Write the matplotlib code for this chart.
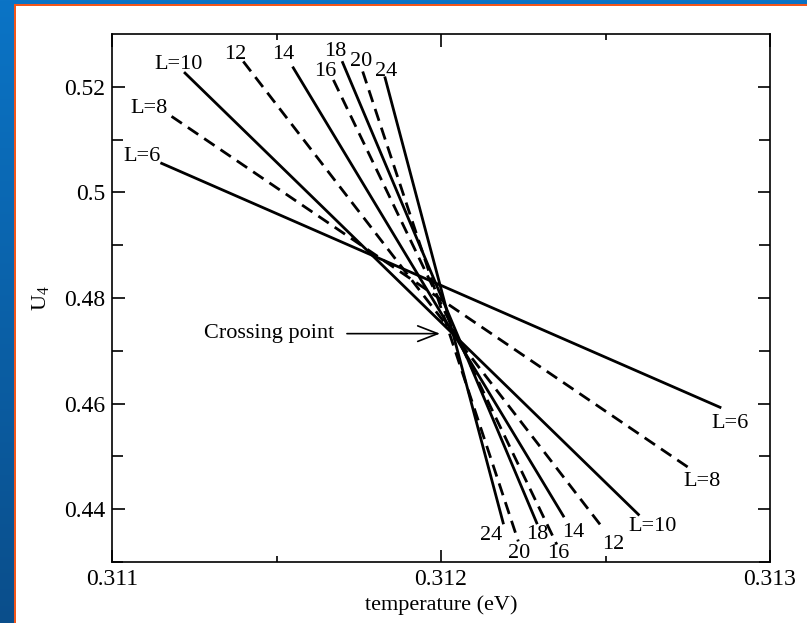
import numpy as np
import matplotlib
matplotlib.use("Agg")
import matplotlib.pyplot as plt
from matplotlib.patches import Rectangle
from matplotlib.colors import LinearSegmentedColormap

plt.rcParams['font.family'] = ['Liberation Serif', 'DejaVu Serif']
plt.rcParams['mathtext.fontset'] = 'custom'
plt.rcParams['mathtext.rm'] = 'Liberation Serif'
plt.rcParams['mathtext.it'] = 'Liberation Serif:italic'

# system sizes and the straight fits of U4 vs temperature (end points)
sizes = [6, 8, 10, 12, 14, 16, 18, 20, 24]
t_start = [0.311151, 0.311181, 0.311222, 0.311399, 0.311551, 0.311673, 0.311701, 0.311762, 0.311830]
t_end = [0.312848, 0.312752, 0.312600, 0.312491, 0.312372, 0.312352, 0.312291, 0.312235, 0.312189]
u_start = [0.5055, 0.5144, 0.5226, 0.5248, 0.5236, 0.5213, 0.5246, 0.5229, 0.5217]
u_end = [0.4593, 0.4479, 0.4390, 0.4365, 0.4387, 0.4333, 0.4374, 0.4339, 0.4374]
dashed = [False, True, False, True, False, True, False, True, False]

# label offsets (points) from each end of the line
top_off = [(-14, 5), (-16, 6), (-5, 6), (-6, 5), (-7, 9.5), (-6, 6), (-5, 8), (-1, 7), (1, 4.5)]
bot_off = [(7, -12), (10, -10), (10, -8.5), (7.5, -12), (7, -12), (1, -6.5), (0, -8), (0.5, -9), (-9, -9)]

crossing_t = 0.311997
crossing_u = 0.47325

fig = plt.figure(figsize=(8.07, 6.23), dpi=100)

# blue slide background with orange edge and white panel
bg = fig.add_axes([0, 0, 1, 1], zorder=-10)
grad = np.linspace(0, 1, 256).reshape(-1, 1)
cmap = LinearSegmentedColormap.from_list('slide', ['#0b74c6', '#0a4e8b'])
bg.imshow(grad, aspect='auto', cmap=cmap, extent=[0, 1, 0, 1], origin='upper')
bg.add_patch(Rectangle((14 / 807, 0), 1, 1 - 4 / 623, color='#f2561b', lw=0))
bg.add_patch(Rectangle((16 / 807, 0), 1, 1 - 6 / 623, color='white', lw=0))
bg.set_xlim(0, 1)
bg.set_ylim(0, 1)
bg.axis('off')

ax = fig.add_axes([112 / 807, 1 - 562 / 623, 658 / 807, 528 / 623])
ax.set_facecolor('none')

for i, L in enumerate(sizes):
    ls = (0, (4.5, 2.6)) if dashed[i] else '-'
    ax.plot([t_start[i], t_end[i]], [u_start[i], u_end[i]], color='black', lw=2.0, ls=ls)
    name = f'L={L}' if L <= 10 else str(L)
    ax.annotate(name, (t_start[i], u_start[i]), xytext=top_off[i], textcoords='offset points',
                ha='center', va='center', fontsize=16)
    ax.annotate(name, (t_end[i], u_end[i]), xytext=bot_off[i], textcoords='offset points',
                ha='center', va='center', fontsize=16)

ax.annotate('Crossing point', xy=(crossing_t, crossing_u), xytext=(-76, 0), textcoords='offset points',
            ha='right', va='center', fontsize=16,
            arrowprops=dict(arrowstyle='->,head_length=0.9,head_width=0.35', color='black', lw=1.2,
                            shrinkA=7, shrinkB=0))

ax.set_xlim(0.311, 0.313)
ax.set_ylim(0.43, 0.53)
ax.set_xticks([0.311, 0.312, 0.313])
ax.set_xticklabels(['0.311', '0.312', '0.313'])
ax.set_xticks([0.3115, 0.3125], minor=True)
ax.set_yticks([0.44, 0.46, 0.48, 0.5, 0.52])
ax.set_yticklabels(['0.44', '0.46', '0.48', '0.5', '0.52'])
ax.set_yticks([0.43, 0.45, 0.47, 0.49, 0.51], minor=True)
ax.tick_params(which='both', direction='in', top=True, right=True, labelsize=17, width=1.2, pad=5)
ax.tick_params(which='major', length=9)
ax.tick_params(axis='x', which='minor', length=4)
ax.tick_params(axis='y', which='minor', length=8)
for s in ax.spines.values():
    s.set_linewidth(1.2)

ax.set_xlabel('temperature (eV)', fontsize=16, labelpad=4)
ax.set_ylabel(r'U$_4$', fontsize=16, labelpad=9)

fig.savefig('out.png', dpi=100)
